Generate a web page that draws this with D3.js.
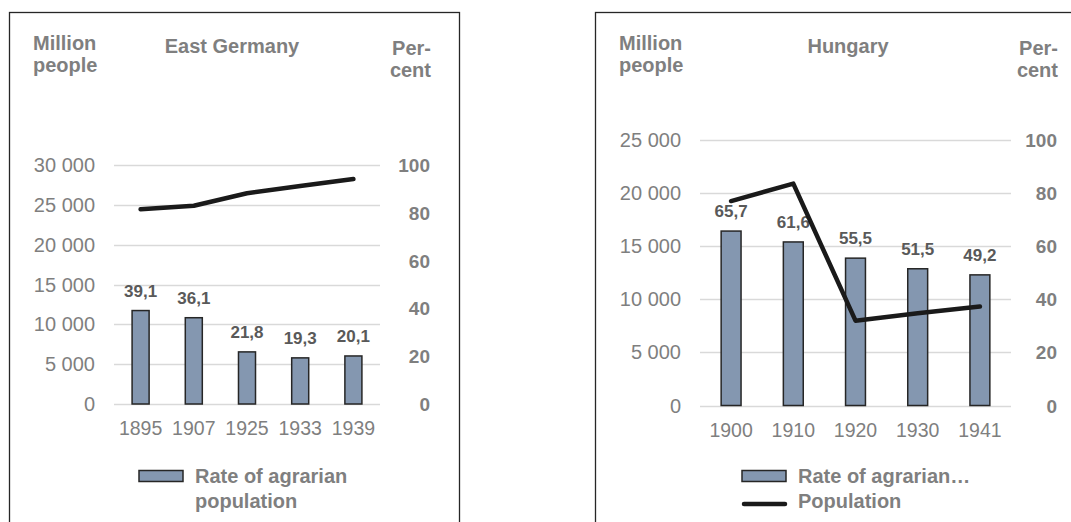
<!DOCTYPE html>
<html>
<head>
<meta charset="utf-8">
<script src="https://cdn.jsdelivr.net/npm/d3@7"></script>
<style>
  body { margin: 0; background: #fff; }
  text { font-family: "Liberation Sans", Arial, sans-serif; }
</style>
</head>
<body>
<div id="chart"></div>
<script>
// East Germany
var deYears = ["1895", "1907", "1925", "1933", "1939"];
var deAgrarianRate = [39.1, 36.1, 21.8, 19.3, 20.1];
var dePopulation = [24440, 24890, 26450, 27360, 28240];
var dePeopleTicks = [0, 5000, 10000, 15000, 20000, 25000, 30000];

// Hungary
var huYears = ["1900", "1910", "1920", "1930", "1941"];
var huAgrarianRate = [65.7, 61.6, 55.5, 51.5, 49.2];
var huPopulation = [19250, 20890, 7990, 8690, 9320];
var huPeopleTicks = [0, 5000, 10000, 15000, 20000, 25000];

var percentTicks = [0, 20, 40, 60, 80, 100];

var width = 1071,
    height = 522;

var svg = d3.select("#chart").append("svg")
  .attr("width", width)
  .attr("height", height);

var fmt = function(d) { return d3.format(",")(d).replace(/,/g, " "); };
var fmtPct = function(d) { return d.toFixed(1).replace(".", ","); };

var grey = "#7f7f7f";

function drawPanel(p) {
  var g = svg.append("g");

  // frame (runs off the bottom / right of the picture)
  g.append("rect")
    .attr("x", p.frame[0] + .5)
    .attr("y", 12.5)
    .attr("width", p.frame[1] - p.frame[0])
    .attr("height", 600)
    .attr("fill", "none")
    .attr("stroke", "#262626")
    .attr("stroke-width", 1.3);

  var x = d3.scaleBand()
    .domain(p.years)
    .range([p.x0, p.x1])
    .paddingInner(0.68)
    .paddingOuter(0.34);

  var y = d3.scaleLinear()
    .domain([0, d3.max(p.peopleTicks)])
    .range([p.y0, p.y1]);

  var yPct = d3.scaleLinear()
    .domain([0, 100])
    .range([p.y0, p.y1]);

  // gridlines
  g.selectAll(".grid")
    .data(p.peopleTicks)
    .enter().append("line")
    .attr("x1", p.x0)
    .attr("x2", p.x1)
    .attr("y1", function(d) { return Math.round(y(d)) + .5; })
    .attr("y2", function(d) { return Math.round(y(d)) + .5; })
    .attr("stroke", "#d9d9d9")
    .attr("stroke-width", 1.3);

  // left axis labels
  g.selectAll(".lt")
    .data(p.peopleTicks)
    .enter().append("text")
    .attr("x", p.leftLabelX)
    .attr("y", function(d) { return y(d) + 7; })
    .attr("text-anchor", "end")
    .attr("fill", grey)
    .attr("font-size", 20)
    .text(fmt);

  // right axis labels
  g.selectAll(".rt")
    .data(percentTicks)
    .enter().append("text")
    .attr("x", p.rightLabelX)
    .attr("y", function(d) { return yPct(d) + 7; })
    .attr("text-anchor", "end")
    .attr("fill", grey)
    .attr("font-size", 19)
    .attr("font-weight", "bold")
    .text(function(d) { return d; });

  // years
  g.selectAll(".yr")
    .data(p.years)
    .enter().append("text")
    .attr("x", function(d) { return x(d) + x.bandwidth() / 2; })
    .attr("y", p.y0 + 31)
    .attr("text-anchor", "middle")
    .attr("fill", grey)
    .attr("font-size", 19.5)
    .text(function(d) { return d; });

  // bars
  g.selectAll(".bar")
    .data(p.rate)
    .enter().append("rect")
    .attr("x", function(d, i) { return x(p.years[i]); })
    .attr("y", function(d) { return yPct(d); })
    .attr("width", x.bandwidth())
    .attr("height", function(d) { return p.y0 - yPct(d); })
    .attr("fill", "#8497b0")
    .attr("stroke", "#262626")
    .attr("stroke-width", 1.5);

  // bar labels
  g.selectAll(".val")
    .data(p.rate)
    .enter().append("text")
    .attr("x", function(d, i) { return x(p.years[i]) + x.bandwidth() / 2; })
    .attr("y", function(d) { return yPct(d) - 14; })
    .attr("text-anchor", "middle")
    .attr("fill", "#595959")
    .attr("font-size", 17)
    .attr("font-weight", "bold")
    .text(fmtPct);

  // population line
  var line = d3.line()
    .x(function(d, i) { return x(p.years[i]) + x.bandwidth() / 2; })
    .y(function(d) { return y(d); });

  g.append("path")
    .datum(p.population)
    .attr("d", line)
    .attr("fill", "none")
    .attr("stroke", "#1a1a1a")
    .attr("stroke-width", 4.5)
    .attr("stroke-linejoin", "round")
    .attr("stroke-linecap", "round");

  // headings
  var head = function(tx, ty, s, anchor) {
    g.append("text")
      .attr("x", tx)
      .attr("y", ty)
      .attr("text-anchor", anchor)
      .attr("fill", grey)
      .attr("font-size", 20)
      .attr("font-weight", "bold")
      .text(s);
  };
  head(p.leftLabelX - 62, 50, "Million", "start");
  head(p.leftLabelX - 62, 72, "people", "start");
  head(p.titleX, 53, p.title, "middle");
  head(p.rightLabelX + 1, 55, "Per-", "end");
  head(p.rightLabelX + 1, 77, "cent", "end");

  // legend
  var lg = g.append("g");
  lg.append("rect")
    .attr("x", p.legendX)
    .attr("y", 470.5)
    .attr("width", 44)
    .attr("height", 11)
    .attr("fill", "#8497b0")
    .attr("stroke", "#262626")
    .attr("stroke-width", 1.5);
  p.legendText.forEach(function(s, i) {
    lg.append("text")
      .attr("x", p.legendX + 56)
      .attr("y", 482.5 + i * 25.5)
      .attr("fill", grey)
      .attr("font-size", 20)
      .attr("font-weight", "bold")
      .text(s);
  });
  if (p.showLine) {
    lg.append("line")
      .attr("x1", p.legendX + 2)
      .attr("x2", p.legendX + 43)
      .attr("y1", 504)
      .attr("y2", 504)
      .attr("stroke", "#1a1a1a")
      .attr("stroke-width", 4.5)
      .attr("stroke-linecap", "round");
  }
}

drawPanel({
  title: "East Germany",
  years: deYears,
  rate: deAgrarianRate,
  population: dePopulation,
  peopleTicks: dePeopleTicks,
  frame: [9, 459],
  x0: 114, x1: 380, y0: 404, y1: 165,
  leftLabelX: 95, rightLabelX: 430, titleX: 232,
  legendX: 139,
  legendText: ["Rate of agrarian", "population"],
  showLine: false
});

drawPanel({
  title: "Hungary",
  years: huYears,
  rate: huAgrarianRate,
  population: huPopulation,
  peopleTicks: huPeopleTicks,
  frame: [595, 1200],
  x0: 700, x1: 1011, y0: 405.5, y1: 140,
  leftLabelX: 681, rightLabelX: 1057, titleX: 848,
  legendX: 742,
  legendText: ["Rate of agrarian\u2026", "Population"],
  showLine: true
});
</script>
</body>
</html>
